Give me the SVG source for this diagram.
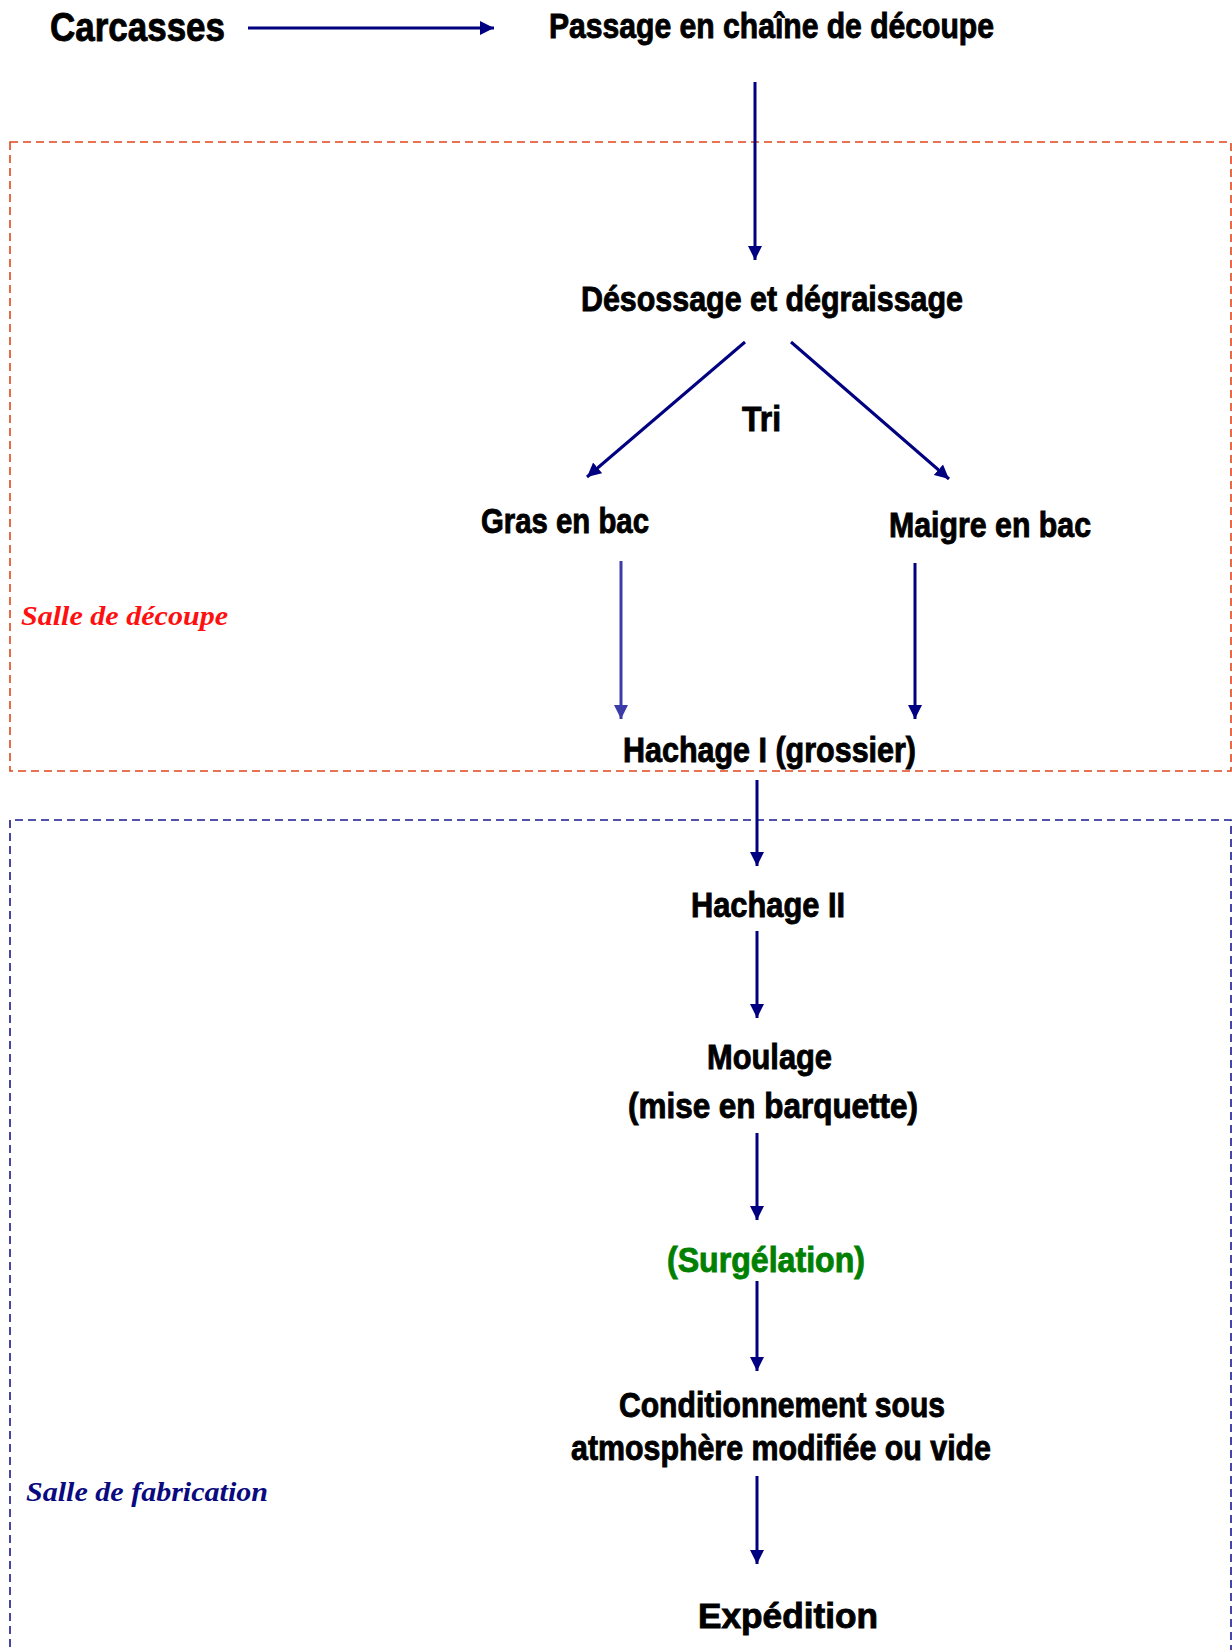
<svg xmlns="http://www.w3.org/2000/svg" width="1232" height="1650" viewBox="0 0 1232 1650">
<style>
.lbl{font-family:"Liberation Sans Narrow","Liberation Sans",Arial,sans-serif;font-weight:bold;font-size:35px;fill:#000;stroke:#000;stroke-width:0.9}
.big{font-size:41px}
.green{fill:#008000;stroke:#008000}
.room{font-family:"Liberation Serif","Times New Roman",serif;font-weight:bold;font-style:italic;font-size:28px}
.conn line{stroke:#000080;stroke-width:3;fill:none}
.zone{fill:none;stroke-width:1.6;stroke-dasharray:8 5}
</style>
<defs>
<marker id="ah" markerUnits="userSpaceOnUse" markerWidth="16" markerHeight="16" viewBox="0 0 16 16" refX="14" refY="8" orient="auto">
<path d="M0,1 L14,8 L0,15 Z" fill="#000080"/>
</marker>
<marker id="ah2" markerUnits="userSpaceOnUse" markerWidth="16" markerHeight="16" viewBox="0 0 16 16" refX="14" refY="8" orient="auto">
<path d="M0,1 L14,8 L0,15 Z" fill="#3c3ca8"/>
</marker>
</defs>
<rect width="1232" height="1650" fill="#fff"/>
<g id="zones">
<rect class="zone" x="10" y="142" width="1221" height="629" stroke="#e0461c"/>
<path class="zone" d="M10,1660 L10,820 L1231,820 L1231,1660" stroke="#1a1a8c"/>
<text class="room" x="21" y="625" fill="#ff1010" textLength="207" lengthAdjust="spacingAndGlyphs">Salle de découpe</text>
<text class="room" x="26" y="1501" fill="#0a0a80" textLength="242" lengthAdjust="spacingAndGlyphs">Salle de fabrication</text>
</g>
<g id="n-carcasses"><text class="lbl big" x="50" y="41" textLength="175" lengthAdjust="spacingAndGlyphs">Carcasses</text></g>
<g id="n-passage"><text class="lbl" x="549" y="38" textLength="445" lengthAdjust="spacingAndGlyphs">Passage en chaîne de découpe</text></g>
<g id="n-desossage"><text class="lbl" x="581" y="311" textLength="382" lengthAdjust="spacingAndGlyphs">Désossage et dégraissage</text></g>
<g id="n-tri"><text class="lbl" x="742" y="431" textLength="39" lengthAdjust="spacingAndGlyphs">Tri</text></g>
<g id="n-gras"><text class="lbl" x="481" y="533" textLength="168" lengthAdjust="spacingAndGlyphs">Gras en bac</text></g>
<g id="n-maigre"><text class="lbl" x="889" y="537" textLength="202" lengthAdjust="spacingAndGlyphs">Maigre en bac</text></g>
<g id="n-hachage1"><text class="lbl" x="623" y="762" textLength="293" lengthAdjust="spacingAndGlyphs">Hachage I (grossier)</text></g>
<g id="n-hachage2"><text class="lbl" x="691" y="917" textLength="154" lengthAdjust="spacingAndGlyphs">Hachage II</text></g>
<g id="n-moulage">
<text class="lbl" x="707" y="1069" textLength="125" lengthAdjust="spacingAndGlyphs">Moulage</text>
<text class="lbl" x="628" y="1118" textLength="290" lengthAdjust="spacingAndGlyphs">(mise en barquette)</text>
</g>
<g id="n-surgelation"><text class="lbl green" x="667" y="1272" textLength="198" lengthAdjust="spacingAndGlyphs">(Surgélation)</text></g>
<g id="n-conditionnement">
<text class="lbl" x="619" y="1417" textLength="326" lengthAdjust="spacingAndGlyphs">Conditionnement sous</text>
<text class="lbl" x="571" y="1460" textLength="420" lengthAdjust="spacingAndGlyphs">atmosphère modifiée ou vide</text>
</g>
<g id="n-expedition"><text class="lbl" x="698" y="1628" textLength="180" lengthAdjust="spacingAndGlyphs">Expédition</text></g>
<g id="connectors" class="conn">
<line x1="248" y1="28" x2="494" y2="28" marker-end="url(#ah)"/>
<line x1="755" y1="82" x2="755" y2="260" marker-end="url(#ah)"/>
<line x1="745" y1="342" x2="587" y2="477" marker-end="url(#ah)"/>
<line x1="791" y1="342" x2="949" y2="479" marker-end="url(#ah)"/>
<line x1="621" y1="561" x2="621" y2="719" style="stroke:#3c3ca8" marker-end="url(#ah2)"/>
<line x1="915" y1="563" x2="915" y2="719" marker-end="url(#ah)"/>
<line x1="757" y1="780" x2="757" y2="866" marker-end="url(#ah)"/>
<line x1="757" y1="931" x2="757" y2="1018" marker-end="url(#ah)"/>
<line x1="757" y1="1133" x2="757" y2="1220" marker-end="url(#ah)"/>
<line x1="757" y1="1281" x2="757" y2="1371" marker-end="url(#ah)"/>
<line x1="757" y1="1476" x2="757" y2="1564" marker-end="url(#ah)"/>
</g>
</svg>
